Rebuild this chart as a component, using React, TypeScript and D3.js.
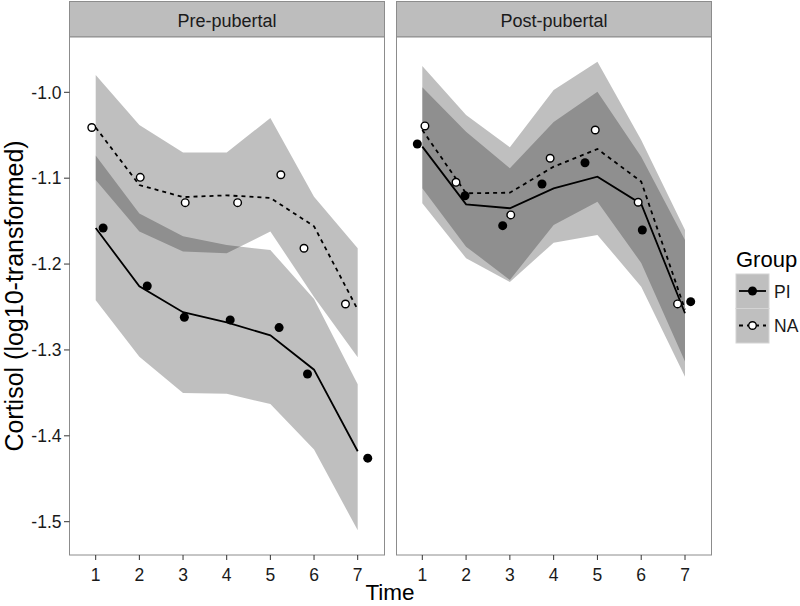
import React from "react";
import * as d3 from "d3";

// ---------- data ----------
const times = [1, 2, 3, 4, 5, 6, 7];
const panels = ["Pre-pubertal", "Post-pubertal"];
const groups = ["PI", "NA"];
const yTicks = [-1.0, -1.1, -1.2, -1.3, -1.4, -1.5];

// Pre-pubertal
const preNAUpper = [-0.98, -1.038, -1.07, -1.07, -1.03, -1.1215, -1.1816];
const preNALower = [-1.102, -1.162, -1.1855, -1.1875, -1.162, -1.2383, -1.3085];
const prePIUpper = [-1.0735, -1.141, -1.1675, -1.1778, -1.1837, -1.2406, -1.34];
const prePILower = [-1.242, -1.308, -1.35, -1.351, -1.363, -1.416, -1.51];
const preNALine = [-1.041, -1.108, -1.122, -1.12, -1.123, -1.156, -1.253];
const prePILine = [-1.158, -1.226, -1.256, -1.268, -1.283, -1.323, -1.418];
const prePIPtsT = [1.17, 2.18, 3.03, 4.08, 5.2, 5.85, 7.23];
const prePIPtsV = [-1.158, -1.2255, -1.262, -1.265, -1.274, -1.328, -1.426];
const preNAPtsT = [0.91, 2.02, 3.05, 4.25, 5.24, 5.77, 6.72];
const preNAPtsV = [-1.041, -1.099, -1.1285, -1.1285, -1.096, -1.1816, -1.2465];

// Post-pubertal
const postNAUpper = [-0.9694, -1.0264, -1.064, -0.9973, -0.9644, -1.0555, -1.1603];
const postNALower = [-1.1118, -1.1797, -1.2185, -1.1545, -1.1274, -1.1987, -1.3136];
const postPIUpper = [-0.9942, -1.0459, -1.0885, -1.0346, -0.9993, -1.075, -1.172];
const postPILower = [-1.1292, -1.1932, -1.2208, -1.1751, -1.1661, -1.2263, -1.3311];
const postNALine = [-1.0439, -1.1176, -1.1169, -1.0866, -1.066, -1.104, -1.253];
const postPILine = [-1.0633, -1.1304, -1.135, -1.1118, -1.0982, -1.13, -1.2573];
const postPIPtsT = [0.886, 1.975, 2.836, 3.734, 4.716, 6.025, 7.13];
const postPIPtsV = [-1.0602, -1.1204, -1.1553, -1.1068, -1.082, -1.1603, -1.2438];
const postNAPtsT = [1.06, 1.77, 3.02, 3.92, 4.95, 5.93, 6.83];
const postNAPtsV = [-1.0392, -1.1048, -1.1428, -1.0768, -1.0439, -1.128, -1.2464];

const panelData = [
  {
    name: panels[0],
    ribbons: [
      { lo: prePILower, hi: prePIUpper },
      { lo: preNALower, hi: preNAUpper },
    ],
    piLine: prePILine,
    naLine: preNALine,
    piT: prePIPtsT, piV: prePIPtsV,
    naT: preNAPtsT, naV: preNAPtsV,
  },
  {
    name: panels[1],
    ribbons: [
      { lo: postPILower, hi: postPIUpper },
      { lo: postNALower, hi: postNAUpper },
    ],
    piLine: postPILine,
    naLine: postNALine,
    piT: postPIPtsT, piV: postPIPtsV,
    naT: postNAPtsT, naV: postNAPtsV,
  },
];

// ---------- layout ----------
const W = 800, H = 606;
const panelTop = 37, panelBottom = 555, stripTop = 1.5;
const panelBoxes = [
  { left: 69.5, right: 384.5, x1: 95.7, x7: 357.7 },
  { left: 396.5, right: 711.5, x1: 422.3, x7: 685 },
];
const FONT = "'Liberation Sans', Arial, Helvetica, sans-serif";
const yScale = d3.scaleLinear().domain([-1.0, -1.5]).range([92.3, 521.7]);

export default function App() {
  return (
    <svg width={W} height={H} style={{ position: "absolute", left: 0, top: 0 }} fontFamily={FONT}>
      <rect x={0} y={0} width={W} height={H} fill="#fff" />
      {panelData.map((p, pi) => {
        const b = panelBoxes[pi];
        const x = d3.scaleLinear().domain([1, 7]).range([b.x1, b.x7]);
        const ribbonPath = (lo: number[], hi: number[]) =>
          d3
            .area<number>()
            .x((d) => x(d))
            .y0((_, i) => yScale(lo[i]))
            .y1((_, i) => yScale(hi[i]))(times) || "";
        const line = (vals: number[]) =>
          d3
            .line<number>()
            .x((d) => x(d))
            .y((_, i) => yScale(vals[i]))(times) || "";
        const clipId = `clip${pi}`;
        return (
          <g key={p.name}>
            <defs>
              <clipPath id={clipId}>
                <rect x={b.left} y={panelTop} width={b.right - b.left} height={panelBottom - panelTop} />
              </clipPath>
            </defs>
            {/* strip */}
            <rect x={b.left} y={stripTop} width={b.right - b.left} height={panelTop - stripTop} fill="#bdbdbd" stroke="#8c8c8c" strokeWidth={1} />
            <text x={(b.left + b.right) / 2} y={26.5} textAnchor="middle" fontSize={18} fill="#1a1a1a">
              {p.name}
            </text>
            {/* panel */}
            <rect x={b.left} y={panelTop} width={b.right - b.left} height={panelBottom - panelTop} fill="#fff" />
            <g clipPath={`url(#${clipId})`}>
              {p.ribbons.map((r, ri) => (
                <path key={ri} d={ribbonPath(r.lo, r.hi)} fill="#000" fillOpacity={0.25} />
              ))}
              <path d={line(p.piLine)} fill="none" stroke="#000" strokeWidth={1.8} />
              <path d={line(p.naLine)} fill="none" stroke="#000" strokeWidth={1.8} strokeDasharray="4,4" />
              {p.piT.map((t, i) => (
                <circle key={"pi" + i} cx={x(t)} cy={yScale(p.piV[i])} r={4.5} fill="#000" />
              ))}
              {p.naT.map((t, i) => (
                <circle key={"na" + i} cx={x(t)} cy={yScale(p.naV[i])} r={3.8} fill="#fff" stroke="#000" strokeWidth={1.4} />
              ))}
            </g>
            <rect x={b.left} y={panelTop} width={b.right - b.left} height={panelBottom - panelTop} fill="none" stroke="#8c8c8c" strokeWidth={1} />
            {/* x axis */}
            {times.map((t) => (
              <g key={t}>
                <line x1={x(t)} x2={x(t)} y1={panelBottom} y2={panelBottom + 5} stroke="#333" strokeWidth={1} />
                <text x={x(t)} y={580.5} textAnchor="middle" fontSize={17.5} fill="#1a1a1a">
                  {t}
                </text>
              </g>
            ))}
          </g>
        );
      })}
      {/* y axis */}
      {yTicks.map((v) => (
        <g key={v}>
          <line x1={64} x2={69.5} y1={yScale(v)} y2={yScale(v)} stroke="#333" strokeWidth={1} />
          <text x={61.5} y={yScale(v) + 6.2} textAnchor="end" fontSize={17.5} fill="#1a1a1a">
            {d3.format(".1f")(v).replace("−", "-")}
          </text>
        </g>
      ))}
      <text transform={`translate(22.5,${(panelTop + panelBottom) / 2}) rotate(-90)`} textAnchor="middle" fontSize={25} fill="#000">
        Cortisol (log10-transformed)
      </text>
      <text x={390} y={600} textAnchor="middle" fontSize={22.5} fill="#000">
        Time
      </text>
      {/* legend */}
      <text x={736} y={267} fontSize={22} fill="#000">
        Group
      </text>
      {groups.map((g, i) => {
        const ky = 274 + i * 34.5;
        const cx = 752.5, cy = ky + 17;
        return (
          <g key={g}>
            <rect x={736} y={ky} width={33} height={34.5} fill="#bfbfbf" stroke="#d4d4d4" strokeWidth={1} />
            <line x1={739} x2={766} y1={cy} y2={cy} stroke="#000" strokeWidth={1.8} strokeDasharray={g === "NA" ? "4,4" : undefined} />
            {g === "PI" ? (
              <circle cx={cx} cy={cy} r={4.5} fill="#000" />
            ) : (
              <circle cx={cx} cy={cy} r={3.8} fill="#fff" stroke="#000" strokeWidth={1.4} />
            )}
            <text x={774} y={cy + 6.5} fontSize={17.5} fill="#1a1a1a">
              {g}
            </text>
          </g>
        );
      })}
    </svg>
  );
}
